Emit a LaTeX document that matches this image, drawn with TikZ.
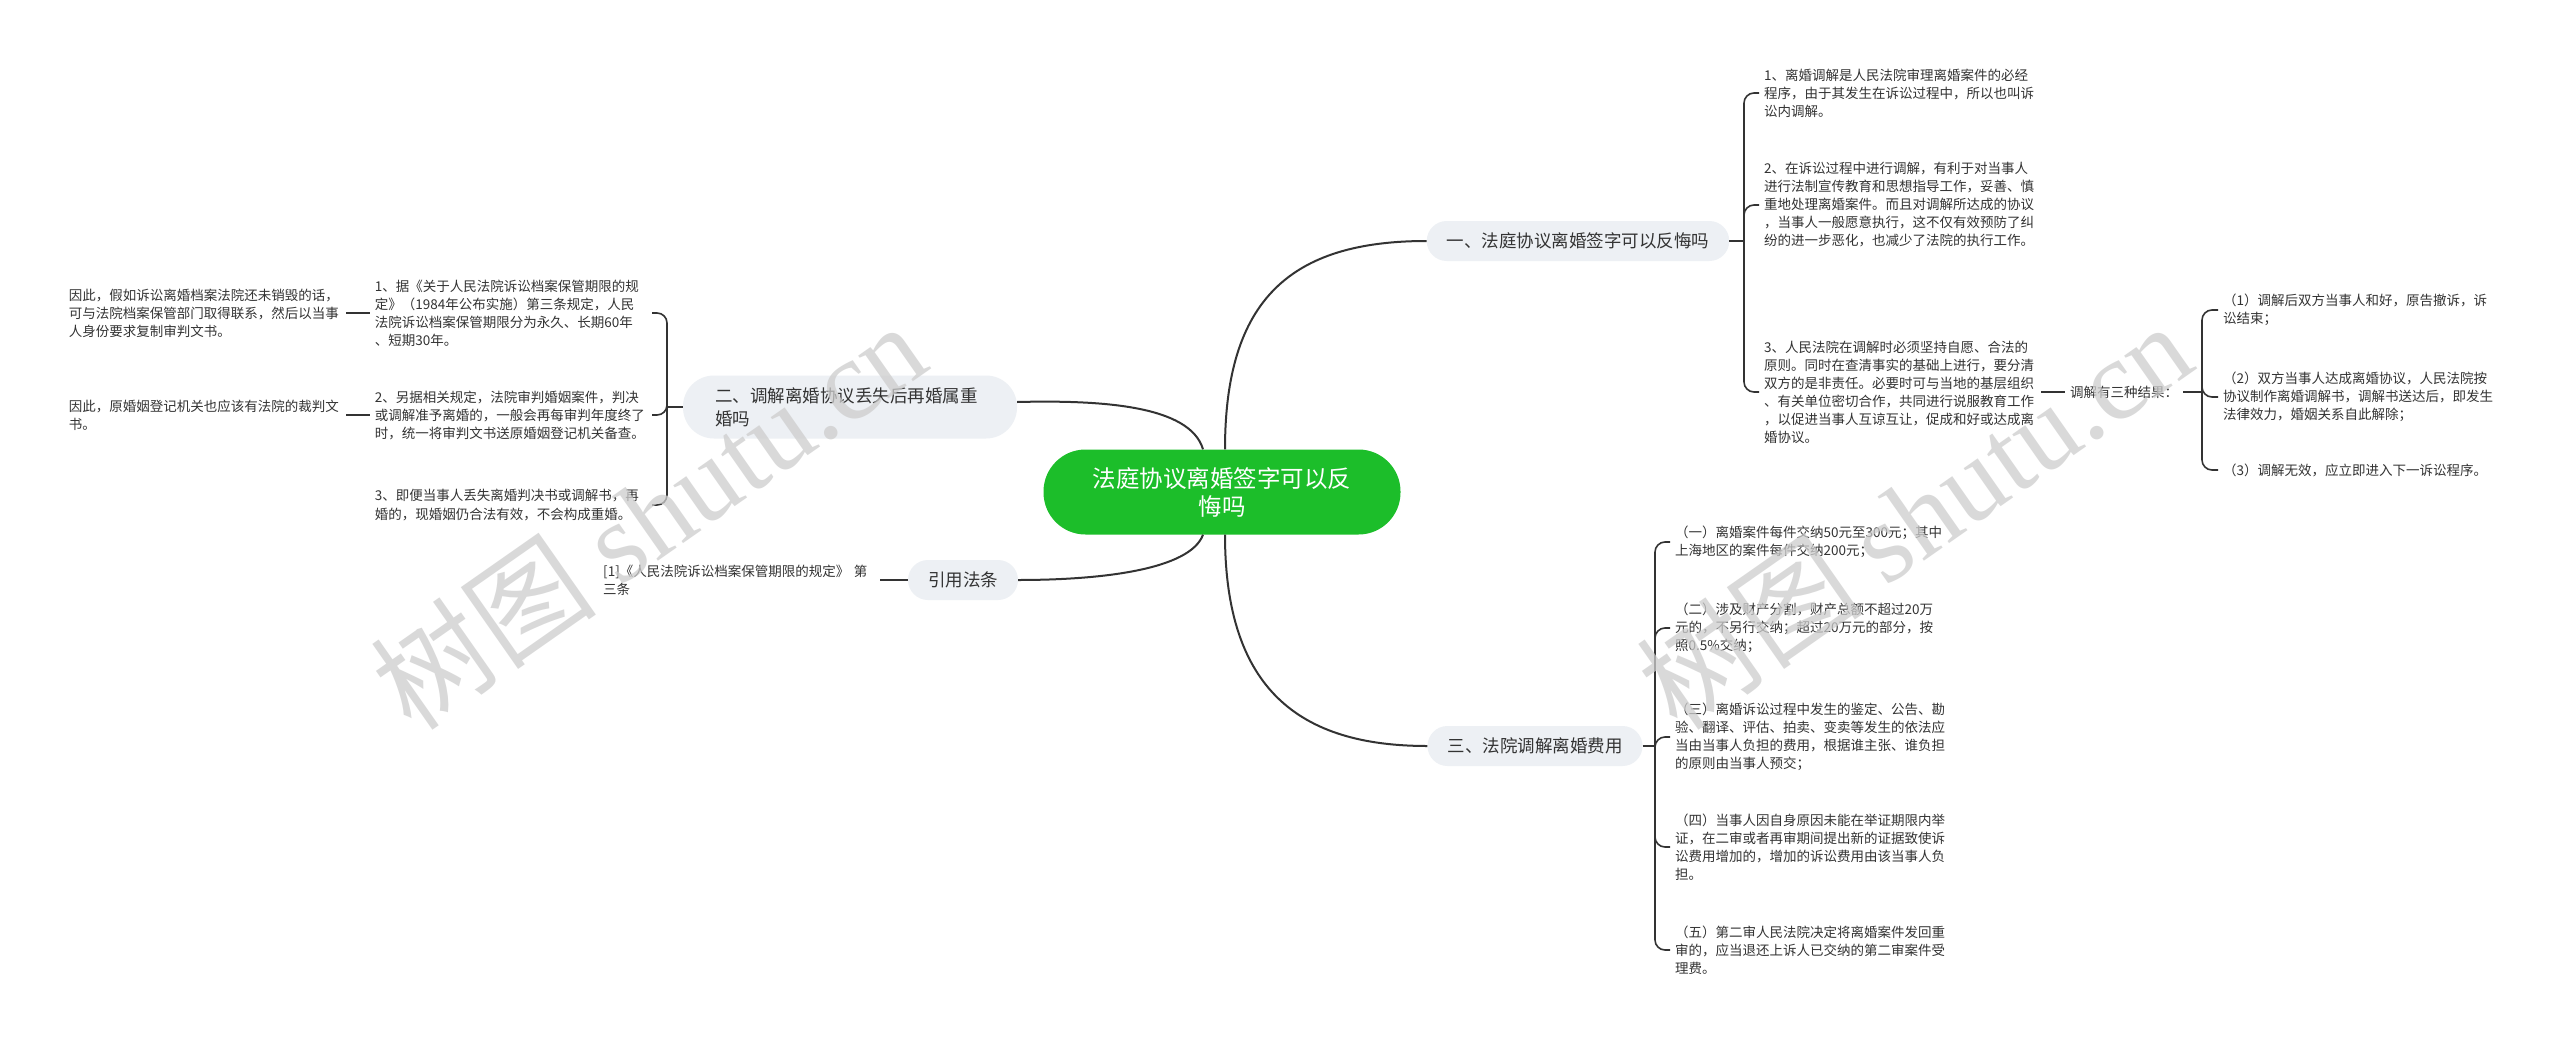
\documentclass[tikz,border=0pt]{standalone}
\usepackage{fontspec}
\newfontfamily\cjk{Noto Sans CJK SC}
\newfontfamily\wmserif{Liberation Serif}
\usetikzlibrary{positioning}
\definecolor{rootgreen}{RGB}{28,190,42}
\definecolor{topicgray}{RGB}{237,240,244}
\definecolor{linegray}{RGB}{51,51,51}
\definecolor{txtgray}{RGB}{51,51,51}
\definecolor{wmgray}{RGB}{205,205,205}

\begin{document}
\begin{tikzpicture}[
    x=1pt, y=-1pt,
    font=\cjk,
    rootbox/.style={fill=rootgreen, text=white, rounded corners=42pt, minimum width=357pt,
      minimum height=85pt, text width=300pt, align=center, font=\cjk\fontsize{23.5pt}{28pt}\selectfont},
    topic/.style={fill=topicgray, text=txtgray, rounded corners=20pt, minimum height=40pt,
      inner xsep=20pt, font=\cjk\fontsize{17.5pt}{23pt}\selectfont},
    note/.style={text=txtgray, inner xsep=5pt, inner ysep=2pt, font=\cjk\fontsize{13.5pt}{18pt}\selectfont},
    leaf/.style={note, text width=272pt, align=left},
    conn/.style={draw=linegray, line width=2pt},
    twig/.style={draw=linegray, line width=1.6pt},
    spine/.style={draw=linegray, line width=1.6pt, rounded corners=10pt},
    wmark/.style={text=wmgray, opacity=0.75, rotate=35, font=\cjk\fontsize{114pt}{114pt}\selectfont}
  ]
    \useasboundingbox (0,0) rectangle (2560,1041);
    \fill[white] (0,0) rectangle (2560,1041);

    % Centre and main topics
    \node[rootbox] (root) at (1222,492) {法庭协议离婚签字可以反\\悔吗};
    \node[topic] (t1) at (1578,241) {一、法庭协议离婚签字可以反悔吗};
    \node[topic, text width=270pt, align=left, inner xsep=32pt, minimum height=63pt,
      rounded corners=31pt] (t2) at (850,407) {二、调解离婚协议丢失后再婚属重\\婚吗};
    \node[topic] (cite) at (963,580) {引用法条};
    \node[topic] (t3) at (1535,746) {三、法院调解离婚费用};

    \draw[conn] ([xshift=3pt]root.north) .. controls (1225,300) and (1290,241) .. (t1.west);
    \draw[conn] ([xshift=-19pt]root.north) .. controls (1190,405) and (1100,400) .. ([yshift=5pt]t2.east);
    \draw[conn] ([xshift=-19pt]root.south) .. controls (1190,570) and (1100,580) .. (cite.east);
    \draw[conn] ([xshift=3pt]root.south) .. controls (1225,690) and (1300,746) .. (t3.west);

    % Topic 1
    \node[leaf, anchor=west] (t1a) at (1759,93) {1、离婚调解是人民法院审理离婚案件的必经\\程序，由于其发生在诉讼过程中，所以也叫诉\\讼内调解。};
    \node[leaf, anchor=west] (t1b) at (1759,205) {2、在诉讼过程中进行调解，有利于对当事人\\进行法制宣传教育和思想指导工作，妥善、慎\\重地处理离婚案件。而且对调解所达成的协议\\，当事人一般愿意执行，这不仅有效预防了纠\\纷的进一步恶化，也减少了法院的执行工作。};
    \node[leaf, anchor=west] (t1c) at (1759,392) {3、人民法院在调解时必须坚持自愿、合法的\\原则。同时在查清事实的基础上进行，要分清\\双方的是非责任。必要时可与当地的基层组织\\、有关单位密切合作，共同进行说服教育工作\\，以促进当事人互谅互让，促成和好或达成离\\婚协议。};
    \coordinate (j1) at (1744,241);
    \draw[twig] (t1.east) -- (j1);
    \foreach \n in {t1a,t1b,t1c}
      \draw[spine] (j1) |- (\n.west);

    \node[note, anchor=west] (res) at (2065,392) {调解有三种结果：};
    \draw[twig] (t1c.east) -- (res.west);
    \node[leaf, anchor=west] (res1) at (2218,310) {（1）调解后双方当事人和好，原告撤诉，诉\\讼结束；};
    \node[leaf, anchor=west] (res2) at (2218,397) {（2）双方当事人达成离婚协议，人民法院按\\协议制作离婚调解书，调解书送达后，即发生\\法律效力，婚姻关系自此解除；};
    \node[leaf, anchor=west] (res3) at (2218,470) {（3）调解无效，应立即进入下一诉讼程序。};
    \coordinate (j3) at (2202,392);
    \draw[twig] (res.east) -- (j3);
    \foreach \n in {res1,res2,res3}
      \draw[spine] (j3) |- (\n.west);

    % Topic 2
    \node[leaf, anchor=east] (t2a) at (652,313) {1、据《关于人民法院诉讼档案保管期限的规\\定》（1984年公布实施）第三条规定，人民\\法院诉讼档案保管期限分为永久、长期60年\\、短期30年。};
    \node[leaf, anchor=east] (t2b) at (652,415) {2、另据相关规定，法院审判婚姻案件，判决\\或调解准予离婚的，一般会再每审判年度终了\\时，统一将审判文书送原婚姻登记机关备查。};
    \node[leaf, anchor=east] (t2c) at (652,505) {3、即便当事人丢失离婚判决书或调解书，再\\婚的，现婚姻仍合法有效，不会构成重婚。};
    \coordinate (j2) at (667,407);
    \draw[twig] (t2.west) -- (j2);
    \foreach \n in {t2a,t2b,t2c}
      \draw[spine] (j2) |- (\n.east);

    \node[leaf, anchor=east] (t2a1) at (346,313) {因此，假如诉讼离婚档案法院还未销毁的话，\\可与法院档案保管部门取得联系，然后以当事\\人身份要求复制审判文书。};
    \node[leaf, anchor=east] (t2b1) at (346,415) {因此，原婚姻登记机关也应该有法院的裁判文\\书。};
    \draw[twig] (t2a.west) -- (t2a1.east);
    \draw[twig] (t2b.west) -- (t2b1.east);

    % Cited article
    \node[leaf, anchor=west] (cite1) at (598,580) {[1]《人民法院诉讼档案保管期限的规定》 第\\三条};
    \draw[twig] (cite1.east) -- (cite.west);

    % Topic 3
    \node[leaf, anchor=west] (t3a) at (1670,542) {（一）离婚案件每件交纳50元至300元；其中\\上海地区的案件每件交纳200元；};
    \node[leaf, anchor=west] (t3b) at (1670,628) {（二）涉及财产分割，财产总额不超过20万\\元的，不另行交纳；超过20万元的部分，按\\照0.5\%交纳；};
    \node[leaf, anchor=west] (t3c) at (1670,737) {（三）离婚诉讼过程中发生的鉴定、公告、勘\\验、翻译、评估、拍卖、变卖等发生的依法应\\当由当事人负担的费用，根据谁主张、谁负担\\的原则由当事人预交；};
    \node[leaf, anchor=west] (t3d) at (1670,847) {（四）当事人因自身原因未能在举证期限内举\\证，在二审或者再审期间提出新的证据致使诉\\讼费用增加的，增加的诉讼费用由该当事人负\\担。};
    \node[leaf, anchor=west] (t3e) at (1670,950) {（五）第二审人民法院决定将离婚案件发回重\\审的，应当退还上诉人已交纳的第二审案件受\\理费。};
    \coordinate (j4) at (1655,746);
    \draw[twig] (t3.east) -- (j4);
    \foreach \n in {t3a,t3b,t3c,t3d,t3e}
      \draw[spine] (j4) |- (\n.west);

    % Watermarks
    \node[wmark] (wm1) at (648,515) {树图 {\wmserif shutu.cn}};
    \node[wmark] (wm2) at (1914,515) {树图 {\wmserif shutu.cn}};
  \end{tikzpicture}
\end{document}
